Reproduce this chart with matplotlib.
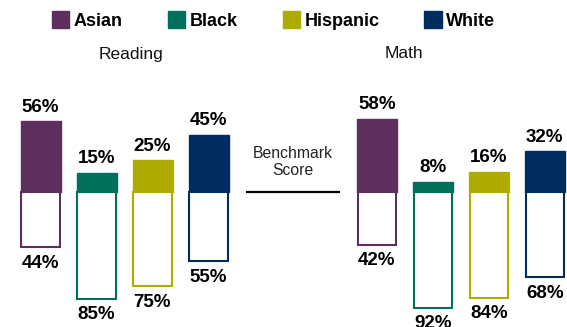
import matplotlib
matplotlib.use("Agg")
import matplotlib.pyplot as plt
from matplotlib.patches import Patch

plt.rcParams['font.family'] = ['Liberation Sans', 'DejaVu Sans']

groups = ["Asian", "Black", "Hispanic", "White"]
colors = ["#5D2F5F", "#00705B", "#AEAC00", "#002D5F"]
subjects = ["Reading", "Math"]
above = {"Reading": [56, 15, 25, 45], "Math": [58, 8, 16, 32]}
below = {"Reading": [44, 85, 75, 55], "Math": [42, 92, 84, 68]}

W, H = 567, 327
fig = plt.figure(figsize=(W / 100, H / 100), dpi=100)
ax = fig.add_axes([0, 0, 1, 1])

k = 1.26          # pixels per percentage point
base_px = 191.7   # baseline position from the top edge
ax.set_xlim(0, W)
ax.set_ylim(-(H - base_px) / k, base_px / k)
ax.axis("off")

bar_w = 40
step = 56
starts = {"Reading": 40.5, "Math": 376.8}
title_x = {"Reading": 131.5, "Math": 404}

for subj in subjects:
    xs = [starts[subj] + i * step for i in range(len(groups))]
    for x, a, b, c in zip(xs, above[subj], below[subj], colors):
        ax.bar(x, a, width=bar_w, bottom=0, color=c, edgecolor=c, linewidth=1.0)
        ax.bar(x, -b, width=bar_w - 1.5, bottom=0, facecolor="white",
               edgecolor=c, linewidth=1.5)
        ax.annotate(f"{a}%", (x, a), xytext=(0, 4), textcoords="offset points",
                    ha="center", va="bottom", fontsize=13.5, fontweight="bold")
        ax.annotate(f"{b}%", (x, -b), xytext=(0, -5.5), textcoords="offset points",
                    ha="center", va="top", fontsize=13.5, fontweight="bold")
    ax.text(title_x[subj], (base_px - 54) / k, subj, ha="center", va="center",
            fontsize=12.5, color="#111111")

# benchmark marker between the two panels
ax.plot([245.7, 340], [0, 0], color="black", linewidth=1.6, solid_capstyle="butt")
ax.text(293, (base_px - 162) / k, "Benchmark\nScore", ha="center", va="center",
        fontsize=11.3, color="#222222", linespacing=1.2)

handles = [Patch(facecolor=c, edgecolor=c) for c in colors]
fig.legend(handles, groups, loc="center left",
           bbox_to_anchor=(52.0 / W, 1 - 20.5 / H), ncol=4, frameon=False,
           borderpad=0, borderaxespad=0, handlelength=0.95, handleheight=1.0,
           handletextpad=0.25, columnspacing=2.5,
           prop={"size": 13, "weight": "bold"})

fig.savefig("out.png", dpi=100)
